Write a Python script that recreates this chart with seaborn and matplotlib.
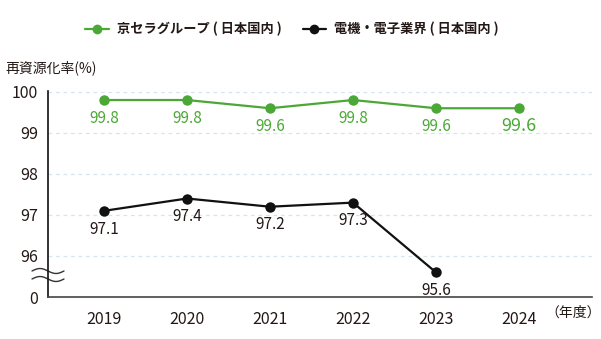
import numpy as np
import pandas as pd
import matplotlib
matplotlib.use("Agg")
import matplotlib.pyplot as plt
from matplotlib.lines import Line2D
import seaborn as sns

years = ["2019", "2020", "2021", "2022", "2023", "2024"]
kyocera = [99.8, 99.8, 99.6, 99.8, 99.6, 99.6]
industry = [97.1, 97.4, 97.2, 97.3, 95.6, None]
series_names = ["京セラグループ ( 日本国内 )", "電機・電子業界 ( 日本国内 )"]
ytick_values = [95, 96, 97, 98, 99, 100]
ytick_labels = ["0", "96", "97", "98", "99", "100"]

GREEN = "#4ca836"
BLACK = "#111111"
TEXT = "#231815"

sns.set_theme(style="white")
plt.rcParams["font.family"] = ["Noto Sans CJK JP", "DejaVu Sans"]

df = pd.DataFrame({
    "x": list(range(len(years))) * 2,
    "value": kyocera + industry,
    "series": [series_names[0]] * len(years) + [series_names[1]] * len(years),
}).dropna()

fig = plt.figure(figsize=(6.01, 3.39), dpi=100)
ax = fig.add_axes([48 / 601, 1 - 297 / 339, (592 - 48) / 601, (297 - 91) / 339])

# Dashed guide lines
for v in ytick_values[1:]:
    ax.axhline(v, color="#d3e6ee", lw=0.9, ls=(0, (3, 3)), zorder=0)

sns.lineplot(data=df, x="x", y="value", hue="series",
             palette=[GREEN, BLACK], marker="o", markersize=7.5,
             markeredgewidth=0, linewidth=1.6, ax=ax, legend=False)

# Value labels under each point
for i, v in enumerate(kyocera):
    big = i == len(years) - 1
    ax.annotate(f"{v:.1f}", (i, v), xytext=(0, -6 if big else -7), textcoords="offset points",
                ha="center", va="top", color=GREEN,
                fontsize=13 if big else 11)
for i, v in enumerate(industry):
    if v is None:
        continue
    ax.annotate(f"{v:.1f}", (i, v), xytext=(0, -7), textcoords="offset points",
                ha="center", va="top", color=TEXT, fontsize=11)

ax.set_xlim(-0.675, 5.88)
ax.set_ylim(95, 100.02)
ax.set_yticks(ytick_values)
ax.set_yticklabels(ytick_labels, fontsize=11.5, color=TEXT)
ax.set_xticks([0.5, 1.5, 2.5, 3.5, 4.5])
ax.set_xticklabels([])
ax.tick_params(axis="x", direction="out", length=5, width=1, color="#333333", pad=2)
ax.tick_params(axis="y", length=0, pad=7)
for i, y in enumerate(years):
    ax.text(i, -0.07, y, transform=ax.get_xaxis_transform(), ha="center", va="top",
            fontsize=11.5, color=TEXT)
fig.text(601 / 601, 1 - 313 / 339, "（年度）", ha="right", va="center",
         fontsize=10, color=TEXT)
ax.set_xlabel("")
ax.set_ylabel("")
for s in ["top", "right"]:
    ax.spines[s].set_visible(False)
ax.spines["left"].set_color("#111111")
ax.spines["bottom"].set_color("#444444")
ax.spines["left"].set_linewidth(1.2)
ax.spines["bottom"].set_linewidth(1.2)

# Axis break marks
t = np.linspace(0, 1, 60)
xs = (32 - 48) / 544 + t * (32 / 544)
for ybase in (271, 279):
    yb = (297 - ybase) / 206
    ys = yb + 0.012 * np.sin(t * 2 * np.pi)
    ax.plot(xs, ys, transform=ax.transAxes, color="#333333", lw=1.0, clip_on=False)

fig.text(5 / 601, 1 - 68 / 339, "再資源化率(%)", ha="left", va="center",
         fontsize=10, color=TEXT)

# Legend
handles = [Line2D([0], [0], color=c, marker="o", markersize=7, lw=1.6, markeredgewidth=0)
           for c in (GREEN, BLACK)]
leg = fig.legend(handles, series_names, loc="center", bbox_to_anchor=(292 / 601, 1 - 29 / 339),
                 ncol=2, frameon=False, fontsize=9.5, handlelength=1.8, columnspacing=1.6,
                 handletextpad=0.6)
for txt in leg.get_texts():
    txt.set_color(TEXT)
    txt.set_fontweight("bold")

fig.savefig("out.png", dpi=100)
